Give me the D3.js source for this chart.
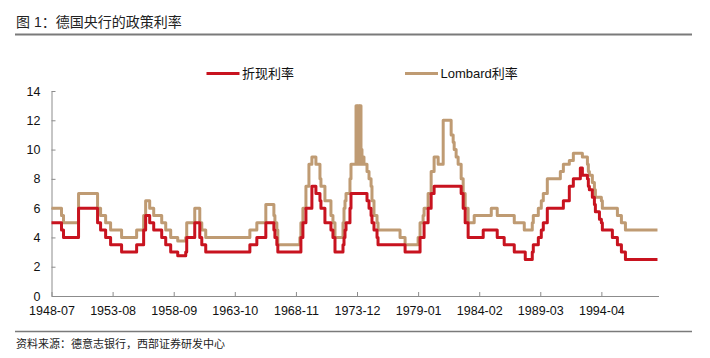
<!DOCTYPE html>
<html>
<head>
<meta charset="utf-8">
<script src="https://cdn.jsdelivr.net/npm/d3@7"></script>
<style>
  html, body { margin: 0; padding: 0; background: #fff; }
  svg { display: block; }
  text { font-family: "Liberation Sans", Arial, "Noto Sans CJK SC", sans-serif; }
</style>
</head>
<body>
<svg id="chart" width="710" height="358"></svg>
<script>
// ---- Data (change points, monthly) ----
const discountDates = ["1948-07","1949-05","1949-07","1950-10","1952-05","1952-08","1953-01","1953-06","1954-05","1955-08",
  "1956-03","1956-05","1956-09","1957-01","1957-09","1958-01","1958-06","1959-01","1959-09","1959-10",
  "1960-06","1960-11","1961-01","1961-05","1965-01","1965-08","1966-05","1967-01","1967-02","1967-04",
  "1967-05","1969-04","1969-06","1969-09","1970-03","1970-07","1970-11","1970-12","1971-04","1971-10",
  "1971-12","1972-02","1972-10","1972-11","1972-12","1973-01","1973-05","1973-06","1974-10","1974-12",
  "1975-02","1975-03","1975-05","1975-08","1975-09","1977-12","1979-03","1979-07","1979-11","1980-02",
  "1980-05","1982-08","1982-10","1982-12","1983-03","1984-06","1985-08","1986-03","1987-01","1987-12",
  "1988-07","1988-08","1989-01","1989-04","1989-06","1989-10","1991-02","1991-08","1991-12","1992-07",
  "1992-09","1993-02","1993-03","1993-04","1993-07","1993-09","1993-10","1994-02","1994-04","1994-05",
  "1995-03","1995-08","1995-12","1996-04","1998-12"];
const discountValues = [5,4.5,4,6,5,4.5,4,3.5,3,3.5,
  4.5,5.5,5,4.5,4,3.5,3,2.75,3,4,
  5,4,3.5,3,3.5,4,5,4.5,4,3.5,
  3,4,5,6,7.5,7,6.5,6,5,4.5,
  4,3,3.5,4,4.5,5,6,7,6.5,6,
  5.5,5,4.5,4,3.5,3,4,5,6,7,
  7.5,7,6,5,4,4.5,4,3.5,3,2.5,
  3,3.5,4,4.5,5,6,6.5,7.5,8,8.75,
  8.25,8,7.5,7.25,6.75,6.25,5.75,5.25,5,4.5,
  4,3.5,3,2.5,2.5];

const lombardDates = ["1948-07","1949-05","1949-07","1950-10","1952-05","1952-08","1953-01","1953-06","1954-05","1955-08",
  "1956-03","1956-05","1956-09","1957-01","1957-09","1958-01","1958-06","1959-01","1959-09","1959-10",
  "1960-06","1960-11","1961-01","1961-05","1965-01","1965-08","1966-05","1967-01","1967-02","1967-04",
  "1967-05","1969-03","1969-04","1969-06","1969-09","1969-12","1970-03","1970-07","1970-11","1970-12",
  "1971-04","1971-10","1971-12","1972-02","1972-10","1972-11","1972-12","1973-01","1973-05","1973-06",
  "1973-11","1973-12","1974-01","1974-02","1974-03","1974-04","1974-05","1974-06","1974-07","1974-10",
  "1974-12","1975-02","1975-03","1975-05","1975-08","1975-09","1977-07","1977-12","1979-01","1979-03",
  "1979-06","1979-07","1979-11","1980-02","1980-05","1980-09","1981-02","1981-10","1981-12","1982-01",
  "1982-03","1982-05","1982-08","1982-10","1982-12","1983-03","1983-09","1985-02","1985-08","1987-01",
  "1987-11","1988-07","1988-08","1989-01","1989-04","1989-06","1989-10","1990-11","1991-02","1991-08",
  "1991-12","1992-09","1993-02","1993-03","1993-04","1993-07","1993-09","1993-10","1994-04","1994-05",
  "1995-08","1995-12","1996-04","1998-12"];
const lombardValues = [6,5.5,5,7,6,5.5,5,4.5,4,4.5,
  5.5,6.5,6,5.5,5,4.5,4,3.75,4,5,
  6,5,4.5,4,4.5,5,6.25,5.5,5,4.5,
  3.5,4,5,6,7.5,9,9.5,9,8,7.5,
  6.5,5.5,5,4,5,6,6.5,7,8,9,
  13,9,13,9,13,10,9,9.5,9,8.5,
  8,7.5,6.5,5.5,5,4.5,4,3.5,4,5,
  5.5,6,7,8.5,9.5,9,12,11,10.5,10,
  9.5,9,8,7,6,5,5.5,6,5.5,5,
  4.5,5,5.5,6,6.5,7,8,8.5,9,9.25,
  9.75,9.5,9,8.5,8.25,7.75,7.25,6.75,6.5,6,
  5.5,5,4.5,4.5];

const xTickLabels = ["1948-07","1953-08","1958-09","1963-10","1968-11","1973-12","1979-01","1984-02","1989-03","1994-04"];
const yTicks = [0,2,4,6,8,10,12,14];
const seriesNames = ["折现利率","Lombard利率"];
const titleText = "图 1：德国央行的政策利率";
const sourceText = "资料来源：德意志银行，西部证券研发中心";

// ---- Drawing ----
const parse = d3.timeParse("%Y-%m");
const svg = d3.select("#chart");
const colors = ["#C8131F", "#BF9B73"];
const axisColor = "#8c8c8c";

svg.append("rect").attr("width", 710).attr("height", 358).attr("fill", "#fff");

const x = d3.scaleTime().domain([parse("1948-07"), parse("1999-01")]).range([51.5, 658.5]);
const y = d3.scaleLinear().domain([0, 14]).range([296, 91]);

// title & rules
svg.append("text").attr("x", 16).attr("y", 27)
  .attr("font-size", 14).attr("fill", "#222")
  .attr("font-family", "'Noto Sans CJK SC', sans-serif")
  .text(titleText);
svg.append("line").attr("x1", 15).attr("x2", 692).attr("y1", 34.5).attr("y2", 34.5)
  .attr("stroke", "#7a7a7a").attr("stroke-width", 2);
svg.append("line").attr("x1", 15).attr("x2", 692).attr("y1", 331.5).attr("y2", 331.5)
  .attr("stroke", "#7a7a7a").attr("stroke-width", 1.5);
svg.append("text").attr("x", 16).attr("y", 348)
  .attr("font-size", 11).attr("fill", "#222")
  .attr("font-family", "'Noto Sans CJK SC', sans-serif")
  .text(sourceText);

// axes
const yAxis = d3.axisLeft(y).tickValues(yTicks).tickSizeInner(-4).tickSizeOuter(0).tickPadding(11);
const gy = svg.append("g").attr("transform", "translate(51.5,0)").call(yAxis);
const xAxis = d3.axisBottom(x).tickValues(xTickLabels.map(parse)).tickFormat(d3.timeFormat("%Y-%m"))
  .tickSizeInner(-4).tickSizeOuter(0).tickPadding(10.5);
const gx = svg.append("g").attr("transform", "translate(0,296)").call(xAxis);
[gx, gy].forEach(g => {
  g.select(".domain").attr("stroke", axisColor);
  g.selectAll(".tick line").attr("stroke", axisColor);
  g.selectAll(".tick text").attr("fill", "#111").attr("font-size", 12.5)
    .attr("font-family", "'Liberation Sans', Arial, sans-serif");
});

// lines
const series = [
  { dates: discountDates, values: discountValues },
  { dates: lombardDates, values: lombardValues }
];
const line = d3.line().curve(d3.curveStepAfter)
  .x(d => x(d.date)).y(d => y(d.value));
[1, 0].forEach(i => {
  const s = series[i];
  const pts = s.dates.map((dt, j) => ({ date: parse(dt), value: s.values[j] }));
  svg.append("path").datum(pts).attr("d", line)
    .attr("fill", "none").attr("stroke", colors[i]).attr("stroke-width", 3)
    .attr("stroke-linejoin", "round");
});

// legend
const legendX = [206.5, 405];
seriesNames.forEach((name, i) => {
  svg.append("line").attr("x1", legendX[i]).attr("x2", legendX[i] + 33)
    .attr("y1", 73.5).attr("y2", 73.5).attr("stroke", colors[i]).attr("stroke-width", 3);
  svg.append("text").attr("x", legendX[i] + 35.5).attr("y", 78)
    .attr("font-size", 13).attr("fill", "#111")
    .attr("font-family", "'Liberation Sans', Arial, 'Noto Sans CJK SC', sans-serif")
    .text(name);
});
</script>
</body>
</html>
